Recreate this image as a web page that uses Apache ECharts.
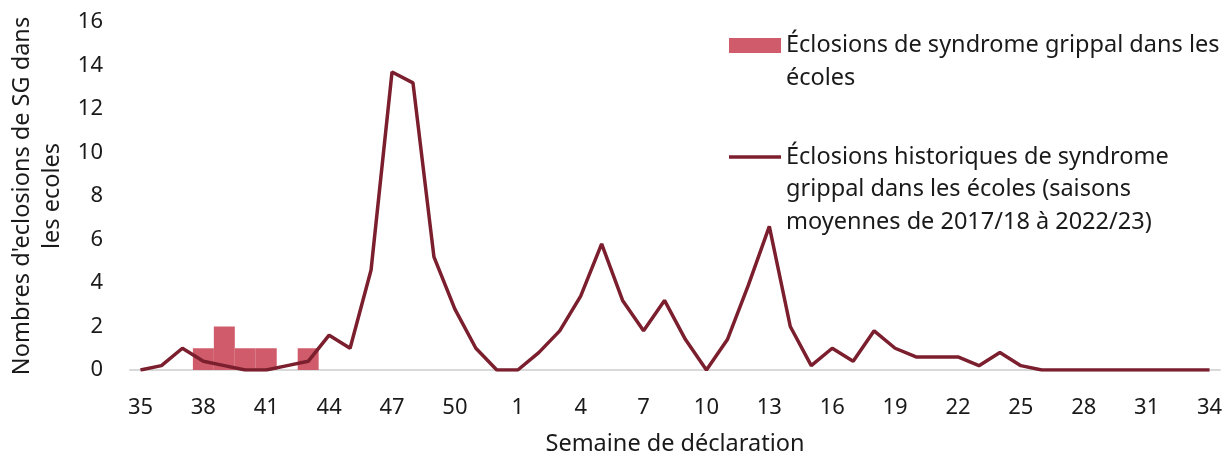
<!DOCTYPE html>
<html>
<head>
<meta charset="utf-8">
<script src="https://cdn.jsdelivr.net/npm/echarts@6/dist/echarts.min.js"></script>
<style>
  html, body { margin: 0; padding: 0; background: #fff; }
  #chart { width: 1227px; height: 456px; }
</style>
</head>
<body>
<div id="chart"></div>
<script>
  // semaines 35 -> 52 puis 1 -> 34
  var weeks = ['35', '36', '37', '38', '39', '40', '41', '42', '43', '44', '45', '46', '47', '48', '49', '50', '51', '52',
    '1', '2', '3', '4', '5', '6', '7', '8', '9', '10', '11', '12', '13', '14', '15', '16', '17',
    '18', '19', '20', '21', '22', '23', '24', '25', '26', '27', '28', '29', '30', '31', '32', '33', '34'];

  // éclosions de la saison en cours
  var outbreaks = [null, null, null, 1, 2, 1, 1, null, 1];

  // moyenne historique 2017/18 à 2022/23
  var historical = [0, 0.2, 1, 0.4, 0.2, 0, 0, 0.2, 0.4, 1.6, 1, 4.6, 13.7, 13.2, 5.2, 2.8, 1, 0,
    0, 0.8, 1.8, 3.4, 5.8, 3.2, 1.8, 3.2, 1.4, 0, 1.4, 3.9, 6.6, 2, 0.2, 1, 0.4,
    1.8, 1, 0.6, 0.6, 0.6, 0.2, 0.8, 0.2, 0, 0, 0, 0, 0, 0, 0, 0, 0];

  var barName = 'Éclosions de syndrome grippal dans les écoles';
  var lineName = 'Éclosions historiques de syndrome grippal dans les écoles (saisons moyennes de 2017/18 à 2022/23)';

  var font = '"Noto Sans", "Open Sans", sans-serif';
  var txt = '#1a1a1a';
  var fs = 22;   // graduations
  var fsTxt = 23.5; // légende et titres d'axes

  var chart = echarts.init(document.getElementById('chart'));
  chart.setOption({
    animation: false,
    textStyle: { fontFamily: font, color: txt },
    grid: { left: 130, right: 7, top: 22, bottom: 86, outerBoundsMode: 'none' },
    legend: [{
      data: [barName],
      orient: 'vertical',
      left: 729,
      top: -3.25,
      padding: 0,
      itemWidth: 52,
      itemHeight: 15,
      icon: 'rect',
      formatter: function () { return '\nÉclosions de syndrome grippal dans les\nécoles'; },
      textStyle: { fontFamily: font, fontSize: fsTxt, color: txt, lineHeight: 32.5 }
    }, {
      data: [lineName],
      orient: 'vertical',
      left: 729,
      top: 75.75,
      padding: 0,
      itemWidth: 52,
      itemHeight: 3.5,
      icon: 'rect',
      formatter: function () {
        return '\n\nÉclosions historiques de syndrome\ngrippal dans les écoles (saisons\nmoyennes de 2017/18 à 2022/23)';
      },
      textStyle: { fontFamily: font, fontSize: fsTxt, color: txt, lineHeight: 32.5 }
    }],
    xAxis: {
      type: 'category',
      data: weeks,
      boundaryGap: true,
      name: 'Semaine de déclaration',
      nameLocation: 'middle',
      nameGap: 62,
      nameTextStyle: { fontSize: fsTxt, color: txt },
      axisLine: { lineStyle: { color: '#d9d9d9', width: 2 } },
      axisTick: { show: false },
      axisLabel: { interval: 2, fontSize: fs, color: txt, margin: 27 }
    },
    yAxis: {
      type: 'value',
      min: 0,
      max: 16,
      interval: 2,
      name: "Nombres d'eclosions de SG dans\nles ecoles",
      nameLocation: 'middle',
      nameGap: 60,
      nameTextStyle: { fontSize: fsTxt, color: txt, lineHeight: 30 },
      axisLine: { show: false },
      axisTick: { show: false },
      splitLine: { show: false },
      axisLabel: { fontSize: fs, color: txt, margin: 27 }
    },
    series: [{
      name: barName,
      type: 'bar',
      data: outbreaks,
      barCategoryGap: '0%',
      itemStyle: { color: '#d05c6b' },
      z: 1
    }, {
      name: lineName,
      type: 'line',
      data: historical,
      symbol: 'none',
      lineStyle: { color: '#7b1f2e', width: 3.5 },
      itemStyle: { color: '#7b1f2e' },
      z: 3
    }]
  });
</script>
</body>
</html>
